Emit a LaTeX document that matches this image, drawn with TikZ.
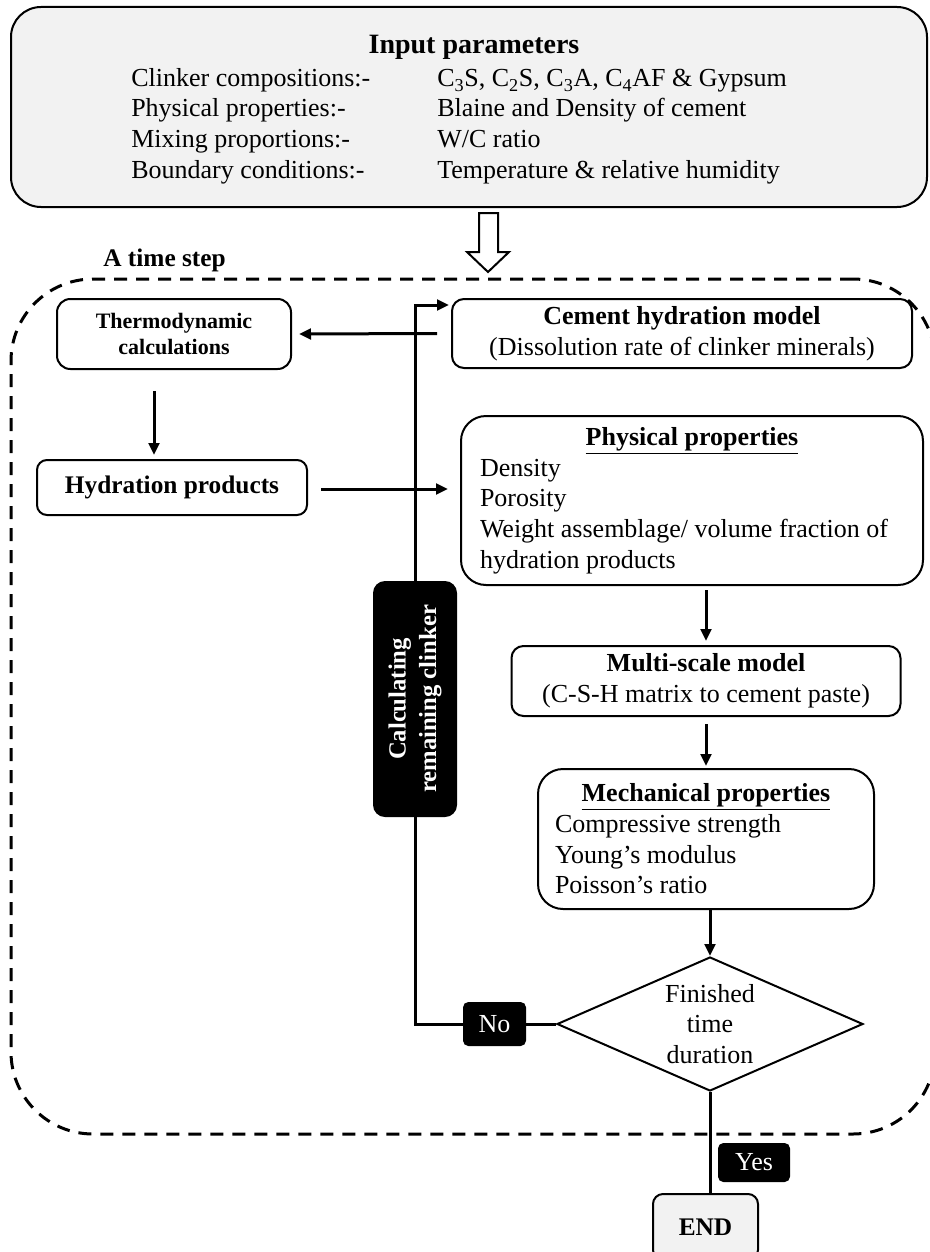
\documentclass[tikz,border=0pt]{standalone}
\usepackage{fontspec}
\setmainfont{Liberation Serif}
\usetikzlibrary{shapes.geometric,arrows.meta,calc}

\tikzset{
  box/.style={draw,line width=1.5pt,rounded corners=9pt,inner sep=0pt,align=center,font=\fontsize{19.5}{23}\selectfont},
  tag/.style={fill=black,text=white,rounded corners=4pt,inner sep=0pt,font=\fontsize{19.5}{23}\selectfont},
  arr/.style={line width=2.25pt,-{Triangle[length=9pt,width=8pt]}},
  wire/.style={line width=2.25pt}
}

\begin{document}
\begin{tikzpicture}[x=0.75pt,y=-0.75pt]
\useasboundingbox (0,0) rectangle (929,1252);

\node[box,fill=gray!10,rounded corners=22.5pt,minimum width=687pt,minimum height=150pt] (input) at (469,107) {};
\node[font=\fontsize{21}{25}\selectfont\bfseries] (intitle) at (474,47) {Input parameters};
\foreach \y/\l/\r [count=\i] in {87/Clinker compositions:-/{C\textsubscript{3}S, C\textsubscript{2}S, C\textsubscript{3}A, C\textsubscript{4}AF \& Gypsum},
  117/Physical properties:-/Blaine and Density of cement,
  148/Mixing proportions:-/{W/C ratio},
  178/Boundary conditions:-/Temperature \& relative humidity}
{
\node[anchor=base west,inner sep=0pt,font=\fontsize{19.5}{23}\selectfont] (inl\i) at (131,\y) {\l};
\node[anchor=base west,inner sep=0pt,font=\fontsize{19.5}{23}\selectfont] (inr\i) at (437,\y) {\r};
}

\draw[line width=1.5pt,fill=white] (479,213) -- (479,252) -- (467,252) -- (488,272) -- (509,252) -- (498,252) -- (498,213) -- cycle;

\node[font=\fontsize{19}{23}\selectfont\bfseries] (steplabel) at (164.5,260) {A time step};
\node[draw,line width=2.25pt,dash pattern=on 9.75pt off 6.75pt,rounded corners=61.5pt,minimum width=693pt,minimum height=641.25pt] (loop) at (473,706.5) {};

\node[box,minimum width=175.5pt,minimum height=52.5pt,rounded corners=10pt,font=\fontsize{16.5}{19.5}\selectfont\bfseries] (thermo) at (174,334) {Thermodynamic\\calculations};
\node[box,minimum width=202.5pt,minimum height=41.25pt,rounded corners=7.5pt,font=\fontsize{19}{23}\selectfont\bfseries] (hydr) at (172,487.5) {Hydration products};
\node[box,minimum width=345pt,minimum height=51.75pt] (cement) at (682,333.5) {\textbf{Cement hydration model}\\(Dissolution rate of clinker minerals)};
\node[box,align=left,inner xsep=14.25pt,minimum width=346.5pt,minimum height=126.75pt,rounded corners=18.75pt] (phys) at (692,500.5)
  {\makebox[318pt]{\bfseries\underline{Physical properties}}\\Density\\Porosity\\Weight assemblage/ volume fraction of\\hydration products};
\node[box,minimum width=291.75pt,minimum height=52.5pt] (multi) at (706,681) {\textbf{Multi-scale model}\\(C-S-H matrix to cement paste)};
\node[box,align=left,inner xsep=12.75pt,minimum width=252pt,minimum height=105pt,rounded corners=18.75pt] (mech) at (706,839)
  {\makebox[226.5pt]{\bfseries\underline{Mechanical properties}}\\Compressive strength\\Young’s modulus\\Poisson’s ratio};
\node[draw,diamond,line width=1.5pt,inner sep=0pt,aspect=2.3,minimum width=229.5pt,minimum height=100.5pt,align=center,font=\fontsize{19.5}{23}\selectfont] (dec) at (710,1024) {Finished\\time\\duration};
\node[box,fill=gray!10,rounded corners=7.5pt,minimum width=78.75pt,minimum height=49.5pt,font=\fontsize{19}{23}\selectfont\bfseries] (stop) at (705.5,1227) {END};

\draw[arr] ($(cement.west)+(-14,0)$) -- ($(thermo.east)+(7,0)$);
\draw[arr] ($(thermo.south)+(-20,21)$) -- ($(hydr.north)+(-18,-4)$);
\draw[arr] ($(hydr.east)+(13,1.5)$) -- ($(phys.west)+(-12,-11.5)$);
\draw[arr] ($(phys.south -| multi.north)+(0,4)$) -- ($(multi.north)+(0,-4)$);
\draw[arr] ($(multi.south)+(0,7)$) -- ($(mech.north)+(0,-2)$);
\draw[arr] (mech.south -| dec.north) -- (dec.north);
\draw[wire] (dec.south) -- (dec.south |- stop.north);

\node[tag,rotate=90,align=center,minimum width=177pt,minimum height=63pt,rounded corners=9pt,font=\fontsize{18.5}{23}\selectfont\bfseries] (calc) at (415,699) {Calculating\\remaining clinker};
\node[tag,minimum width=47.25pt,minimum height=33pt] (no) at (494.5,1024) {No};
\node[tag,minimum width=54pt,minimum height=29.25pt] (yes) at (754,1162.5) {Yes};

\draw[wire] (dec.west) -- (no.east);
\draw[wire] (no.west) -| (calc.west);
\draw[arr] (calc.east) |- ($(cement.north west)+(-2,7)$);

\end{tikzpicture}
\end{document}
